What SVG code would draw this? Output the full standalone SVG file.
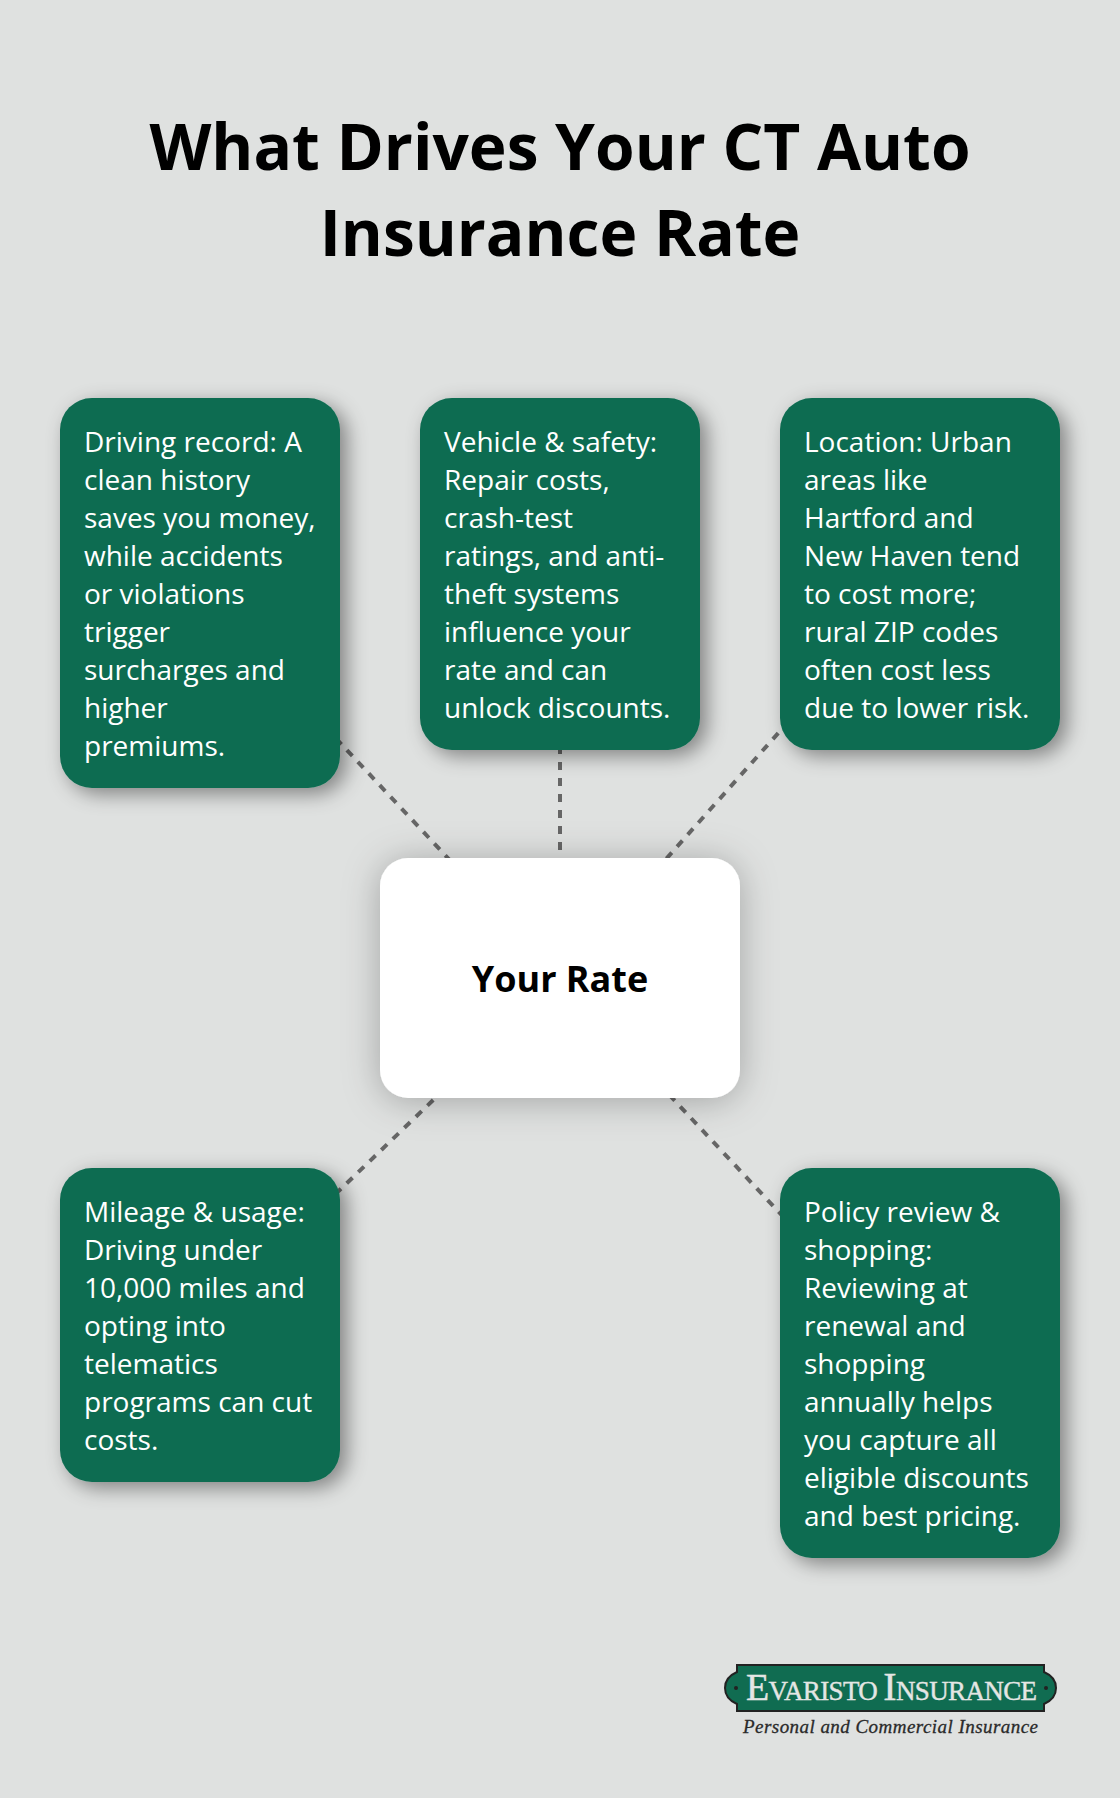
<svg xmlns="http://www.w3.org/2000/svg" width="1120" height="1798" viewBox="0 0 1120 1798">
<defs>
<style>
text{font-family:"Open Sans","Noto Sans",sans-serif}
.t{font-size:64px;font-weight:700;fill:#000;text-anchor:middle}
.b{fill:#106c51;filter:url(#s)}
.c{fill:#fff;filter:url(#s2)}
.l{font-size:28px;fill:#fff}
.k{stroke:#666;stroke-width:4;stroke-dasharray:8 8;fill:none}
.serif{font-family:"Liberation Serif",serif}
</style>
<filter id="s" x="-30%" y="-30%" width="160%" height="160%"><feDropShadow dx="7" dy="6" stdDeviation="10" flood-color="#000" flood-opacity=".42"/></filter>
<filter id="s2" x="-30%" y="-30%" width="160%" height="160%"><feDropShadow dx="0" dy="3" stdDeviation="18" flood-color="#000" flood-opacity=".27"/></filter>
</defs>
<rect width="1120" height="1798" fill="#dfe1e0"/>
<g id="title"><text class="t" x="560" y="170">What Drives Your CT Auto</text><text class="t" x="560" y="256">Insurance Rate</text></g>
<g id="connectors">
<line class="k" x1="560" y1="978" x2="200" y2="593"/>
<line class="k" x1="560" y1="978" x2="560" y2="574"/>
<line class="k" x1="560" y1="978" x2="920" y2="574"/>
<line class="k" x1="560" y1="978" x2="200" y2="1324.5"/>
<line class="k" x1="560" y1="978" x2="920" y2="1363"/>
</g>
<g id="node-driving"><rect class="b" x="60" y="398" width="280" height="390" rx="32"/>
<text class="l"><tspan x="84" y="452">Driving record: A</tspan><tspan x="84" y="490">clean history</tspan><tspan x="84" y="528">saves you money,</tspan><tspan x="84" y="566">while accidents</tspan><tspan x="84" y="604">or violations</tspan><tspan x="84" y="642">trigger</tspan><tspan x="84" y="680">surcharges and</tspan><tspan x="84" y="718">higher</tspan><tspan x="84" y="756">premiums.</tspan></text></g>
<g id="node-vehicle"><rect class="b" x="420" y="398" width="280" height="352" rx="32"/>
<text class="l"><tspan x="444" y="452">Vehicle &amp; safety:</tspan><tspan x="444" y="490">Repair costs,</tspan><tspan x="444" y="528">crash-test</tspan><tspan x="444" y="566">ratings, and anti-</tspan><tspan x="444" y="604">theft systems</tspan><tspan x="444" y="642">influence your</tspan><tspan x="444" y="680">rate and can</tspan><tspan x="444" y="718">unlock discounts.</tspan></text></g>
<g id="node-location"><rect class="b" x="780" y="398" width="280" height="352" rx="32"/>
<text class="l"><tspan x="804" y="452">Location: Urban</tspan><tspan x="804" y="490">areas like</tspan><tspan x="804" y="528">Hartford and</tspan><tspan x="804" y="566">New Haven tend</tspan><tspan x="804" y="604">to cost more;</tspan><tspan x="804" y="642">rural ZIP codes</tspan><tspan x="804" y="680">often cost less</tspan><tspan x="804" y="718">due to lower risk.</tspan></text></g>
<g id="node-rate"><rect class="c" x="380" y="858" width="360" height="240" rx="28"/>
<text x="560" y="992" text-anchor="middle" font-size="36" font-weight="700" fill="#000">Your Rate</text></g>
<g id="node-mileage"><rect class="b" x="60" y="1168" width="280" height="314" rx="32"/>
<text class="l"><tspan x="84" y="1222">Mileage &amp; usage:</tspan><tspan x="84" y="1260">Driving under</tspan><tspan x="84" y="1298">10,000 miles and</tspan><tspan x="84" y="1336">opting into</tspan><tspan x="84" y="1374">telematics</tspan><tspan x="84" y="1412">programs can cut</tspan><tspan x="84" y="1450">costs.</tspan></text></g>
<g id="node-policy"><rect class="b" x="780" y="1168" width="280" height="390" rx="32"/>
<text class="l"><tspan x="804" y="1222">Policy review &amp;</tspan><tspan x="804" y="1260">shopping:</tspan><tspan x="804" y="1298">Reviewing at</tspan><tspan x="804" y="1336">renewal and</tspan><tspan x="804" y="1374">shopping</tspan><tspan x="804" y="1412">annually helps</tspan><tspan x="804" y="1450">you capture all</tspan><tspan x="804" y="1488">eligible discounts</tspan><tspan x="804" y="1526">and best pricing.</tspan></text></g>
<g id="logo">
<path d="M737 1665H1044V1672C1051 1675 1056 1680 1056 1688C1056 1696 1051 1701 1044 1704V1711H737V1704C730 1701 725 1696 725 1688C725 1680 730 1675 737 1672Z" fill="#106c51" stroke="#222" stroke-width="2"/>
<circle cx="736" cy="1688" r="2" fill="#222"/><circle cx="1046" cy="1688" r="2" fill="#222"/>
<text class="serif" x="746" y="1700" font-size="27" fill="#e4e6e4" stroke="#e4e6e4" stroke-width=".4" textLength="291" lengthAdjust="spacing"><tspan font-size="38">E</tspan>VARISTO <tspan font-size="40">I</tspan>NSURANCE</text>
<text class="serif" x="743" y="1733" font-size="19" font-style="italic" fill="#2a2a2a" stroke="#2a2a2a" stroke-width=".3" textLength="295" lengthAdjust="spacing">Personal and Commercial Insurance</text>
</g>
</svg>
